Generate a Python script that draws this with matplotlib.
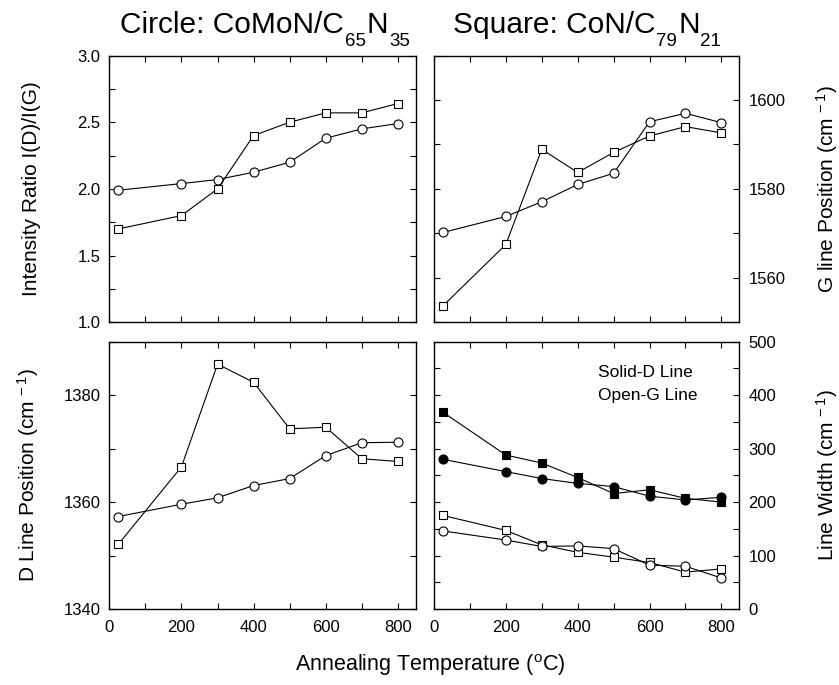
import matplotlib
matplotlib.use("Agg")
import matplotlib.pyplot as plt
from matplotlib.ticker import MultipleLocator

plt.rcParams["font.family"] = ["Liberation Sans", "DejaVu Sans"]
plt.rcParams["mathtext.fontset"] = "custom"
plt.rcParams["mathtext.rm"] = "Liberation Sans"
plt.rcParams["mathtext.default"] = "regular"

# annealing temperatures (C)
temps = [25, 200, 300, 400, 500, 600, 700, 800]

# top-left: intensity ratio I(D)/I(G)
ratio_circle = [1.99, 2.04, 2.07, 2.125, 2.20, 2.38, 2.45, 2.49]
ratio_square = [1.70, 1.80, 2.00, 2.40, 2.50, 2.57, 2.57, 2.64]

# top-right: G line position
gpos_circle = [1570.2, 1573.8, 1577.1, 1581.0, 1583.5, 1595.1, 1597.0, 1594.9]
gpos_square = [1553.7, 1567.5, 1588.9, 1583.7, 1588.2, 1591.9, 1594.0, 1592.6]

# bottom-left: D line position
dpos_circle = [1357.3, 1359.6, 1360.8, 1363.1, 1364.4, 1368.7, 1371.1, 1371.2]
dpos_square = [1352.1, 1366.6, 1385.8, 1382.4, 1373.7, 1374.0, 1368.1, 1367.6]

# bottom-right: line widths (solid = D line, open = G line)
width_d_square = [368, 288, 273, 246, 216, 223, 207, 200]
width_d_circle = [280, 257, 244, 235, 229, 211, 204, 209]
width_g_square = [175, 147, 120, 106, 97, 87, 69, 75]
width_g_circle = [146, 129, 117, 118, 113, 82, 80, 58]

W, H = 839, 685
fig = plt.figure(figsize=(W / 100, H / 100), dpi=100)


def make_axes(x0, y0, x1, y1):
    return fig.add_axes([x0 / W, 1 - y1 / H, (x1 - x0) / W, (y1 - y0) / H])


ax_tl = make_axes(109.3, 55.5, 416, 322.3)
ax_tr = make_axes(434, 55.5, 739.3, 322.3)
ax_bl = make_axes(109.3, 341.7, 416, 609)
ax_br = make_axes(434, 341.7, 739.3, 609)

line_kw = dict(color="black", lw=0.8, markersize=6.5, markeredgewidth=0.8)
sq_kw = dict(line_kw, markersize=6)


def series(ax, y, marker, filled=False):
    kw = sq_kw if marker == "s" else line_kw
    ax.plot(temps, y, marker=marker, markerfacecolor="black" if filled else "white",
            markeredgecolor="black", zorder=3, **kw)


series(ax_tl, ratio_circle, "o")
series(ax_tl, ratio_square, "s")
series(ax_tr, gpos_circle, "o")
series(ax_tr, gpos_square, "s")
series(ax_bl, dpos_circle, "o")
series(ax_bl, dpos_square, "s")
series(ax_br, width_d_square, "s", filled=True)
series(ax_br, width_d_circle, "o", filled=True)
series(ax_br, width_g_square, "s")
series(ax_br, width_g_circle, "o")

ax_tl.set_ylim(1.0, 3.0)
ax_tl.yaxis.set_major_locator(MultipleLocator(0.5))
ax_tl.yaxis.set_minor_locator(MultipleLocator(0.25))
ax_tr.set_ylim(1550, 1610)
ax_tr.yaxis.set_major_locator(MultipleLocator(20))
ax_tr.yaxis.set_minor_locator(MultipleLocator(10))
ax_bl.set_ylim(1340, 1390)
ax_bl.yaxis.set_major_locator(MultipleLocator(20))
ax_bl.yaxis.set_minor_locator(MultipleLocator(10))
ax_br.set_ylim(0, 500)
ax_br.yaxis.set_major_locator(MultipleLocator(100))
ax_br.yaxis.set_minor_locator(MultipleLocator(50))

for ax in (ax_tl, ax_tr, ax_bl, ax_br):
    ax.set_xlim(0, 850)
    ax.xaxis.set_major_locator(MultipleLocator(200))
    ax.xaxis.set_minor_locator(MultipleLocator(100))
    ax.tick_params(which="both", direction="in", top=True, right=True,
                   length=4, width=0.8, labelsize=12)
    ax.tick_params(axis="y", pad=6.5)
    ax.tick_params(axis="x", pad=8)
    for sp in ax.spines.values():
        sp.set_linewidth(1.0)

ax_tl.tick_params(labelbottom=False)
ax_tr.tick_params(labelbottom=False)
for ax in (ax_tr, ax_br):
    ax.tick_params(labelleft=False, labelright=True)
    ax.yaxis.set_label_position("right")

ax_tl.set_yticks([1.0, 1.5, 2.0, 2.5, 3.0])
ax_tl.set_yticklabels(["1.0", "1.5", "2.0", "2.5", "3.0"])

label_size = 15
ax_tl.set_ylabel("Intensity Ratio I(D)/I(G)", fontsize=label_size)
ax_bl.set_ylabel("D Line Position (cm$^{\\,-1}$)", fontsize=label_size)
ax_tr.set_ylabel("G line Position (cm$^{\\,-1}$)", fontsize=label_size)
ax_br.set_ylabel("Line Width (cm$^{\\,-1}$)", fontsize=label_size)
for ax in (ax_tl, ax_bl):
    ax.yaxis.set_label_coords((41 - 109.3) / 306.7, 0.5)
for ax in (ax_tr, ax_br):
    ax.yaxis.set_label_coords((814 - 434) / 305.3, 0.5)

fig.text(430 / W, 1 - 665 / H, "Annealing Temperature ($^{o}$C)", fontsize=15.5,
         ha="center", va="center")


def chem_title(x_px, parts):
    # parts: (text, is_subscript); each piece is chained after the previous one
    main = fig.text(x_px / W, 1 - 33.3 / H, parts[0][0], fontsize=21.5, va="baseline")
    last = main
    for text, is_sub in parts[1:]:
        t = ax_tl.annotate(text, xy=(1, 0), xycoords=(last, main),
                           xytext=(0.7, -4.6 if is_sub else 0),
                           textcoords="offset points",
                           fontsize=13.5 if is_sub else 21.5,
                           va="baseline" if is_sub else "bottom", ha="left",
                           annotation_clip=False)
        last = t


chem_title(120, [("Circle: CoMoN/C", False), ("65", True), ("N", False), ("35", True)])
chem_title(452.7, [("Square: CoN/C", False), ("79", True), ("N", False), ("21", True)])

ax_br.text(0.537, 0.884, "Solid-D Line", transform=ax_br.transAxes,
           fontsize=12.5, ha="left", va="center")
ax_br.text(0.537, 0.798, "Open-G Line", transform=ax_br.transAxes,
           fontsize=12.5, ha="left", va="center")

fig.savefig("out.png", dpi=100)
